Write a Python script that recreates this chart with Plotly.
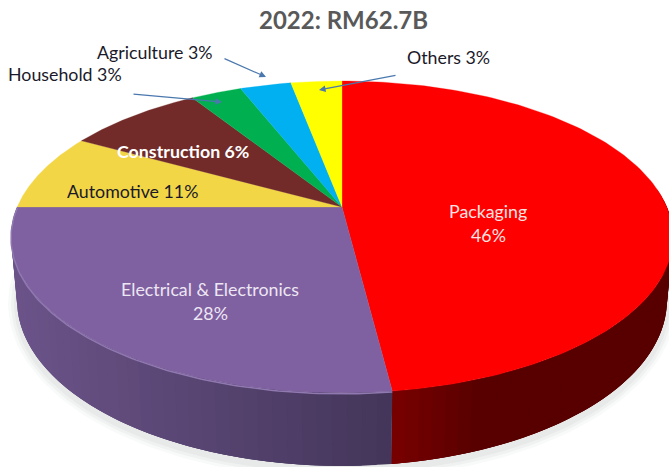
import numpy as np
import plotly.graph_objects as go

# Data
categories = ["Packaging", "Electrical & Electronics", "Automotive", "Construction",
              "Household", "Agriculture", "Others"]
stated_pct = [46, 28, 11, 6, 3, 3, 3]          # percentages printed on the labels
drawn_shares = [48, 27, 8, 8, 3, 3, 3]         # sweep of each slice as drawn in the picture
top_colors = ["#FF0000", "#7F60A0", "#F3D646", "#722B28", "#00B050", "#00B0F0", "#FFFF00"]
side_left = {"Packaging": (122, 0, 0), "Electrical & Electronics": (108, 84, 138)}
side_right = {"Packaging": (88, 0, 0), "Electrical & Electronics": (68, 54, 90)}
title = "2022: RM62.7B"
FONT = "Lato"

# Page-pixel geometry of the tilted disc
AX, AY = 342.0, 207.0      # apex
A, B, K = 324.8, 150.2, 0.192
E_CX, E_CY, E_RX, E_RY = 341.0, 237.0, 331.0, 156.0
L_CX, L_CY, L_RX, L_RY = 341.0, 300.0, 325.0, 166.0


def rim(theta):
    """theta in radians, clockwise from the top of the disc."""
    u, v = np.sin(theta), np.cos(theta)
    w = 1 + K * v
    return AX + A * u / w, AY - B * v / w


def lower(x, y):
    return L_CX + (x - E_CX) * L_RX / E_RX, L_CY + (y - E_CY) * L_RY / E_RY


fig = go.Figure()


def poly(xs, ys, color, opacity=1.0, lw=0.0):
    fig.add_trace(go.Scatter(
        x=xs, y=ys, mode="lines", fill="toself", fillcolor=color, opacity=opacity,
        line=dict(color=color, width=lw), hoverinfo="skip", showlegend=False))


# soft shadow around the base
t = np.linspace(0, 2 * np.pi, 240)
sx, sy = rim(t)
for grow, op in ((9, 0.05), (6, 0.06), (3, 0.08)):
    lx, ly = lower(sx, sy)
    poly(L_CX + (lx - L_CX) * (1 + grow / L_RX), L_CY + 4 + (ly - L_CY) * (1 + grow / L_RY),
         "#7f8a85", op)

edges = np.concatenate([[0], np.cumsum(drawn_shares)]) / sum(drawn_shares) * 2 * np.pi

# side wall: the two slices that face the viewer; each strip overlaps the next to hide seams
for i, name in enumerate(categories):
    if name not in side_left:
        continue
    a0, a1 = edges[i], edges[i + 1]
    a0_vis = max(a0, np.pi / 2 - 0.12)
    a1_vis = min(a1, 3 * np.pi / 2 + 0.12)
    steps = np.linspace(a0_vis, a1_vis, 46)
    for j, (s0, s1) in enumerate(zip(steps[:-1], steps[1:])):
        end = steps[min(j + 3, len(steps) - 1)]
        arc = np.linspace(s0, end, 6)
        x, y = rim(arc)
        bx, by = lower(x, y)
        mx = rim((s0 + s1) / 2)[0]
        if name == "Packaging":
            f = np.clip((mx - 390) / 90, 0, 1)
            c = np.array(side_left[name]) + f * (np.array(side_right[name]) - np.array(side_left[name]))
        else:
            f = np.clip((390 - mx) / 380, 0, 1)
            c = np.array(side_right[name]) + f * (np.array(side_left[name]) - np.array(side_right[name]))
        poly(np.r_[x, bx[::-1], x[0]], np.r_[y, by[::-1], y[0]], "rgb(%d,%d,%d)" % tuple(c))

# top face
for i, name in enumerate(categories):
    th = np.linspace(edges[i], edges[i + 1], 140)
    x, y = rim(th)
    poly(np.r_[AX, x, AX], np.r_[AY, y, AY], top_colors[i], lw=0.3)

# pale highlight on the purple rim
th = np.linspace(edges[1], 3 * np.pi / 2, 120)
x, y = rim(th)
fig.add_trace(go.Scatter(x=x, y=y + 1, mode="lines", line=dict(color="#9079B0", width=1.5),
                         hoverinfo="skip", showlegend=False))


def label(x, y, text, size=17.8, color="#1a1a2a", bold=False):
    fig.add_annotation(x=x, y=y, xref="x", yref="y", text=f"<b>{text}</b>" if bold else text,
                       showarrow=False, xanchor="center", yanchor="middle",
                       font=dict(family=FONT, size=size, color=color))


def arrow(x0, y0, x1, y1):
    fig.add_annotation(x=x1, y=y1, ax=x0, ay=y0, xref="x", yref="y", axref="x", ayref="y",
                       text="", showarrow=True, arrowhead=2, arrowsize=1.1, arrowwidth=1.2,
                       arrowcolor="#4A78AE")


label(343, 19, title, size=24, color="#595959", bold=True)
label(155, 52, f"{categories[5]} {stated_pct[5]}%")
label(65, 74, f"{categories[4]} {stated_pct[4]}%")
label(448, 57, f"{categories[6]} {stated_pct[6]}%")
label(183, 151, f"{categories[3]} {stated_pct[3]}%", color="#FFFFFF", bold=True)
label(132, 191, f"{categories[2]} {stated_pct[2]}%")
label(210, 289, categories[1], color="#EDE6F3")
label(210, 313, f"{stated_pct[1]}%", color="#EDE6F3")
label(488, 211, categories[0], color="#FBE3E3")
label(488, 235, f"{stated_pct[0]}%", color="#FBE3E3")

arrow(223, 58, 266, 77)
arrow(132, 94, 222, 102)
arrow(397, 75, 319, 90)

fig.update_layout(
    width=669, height=467, margin=dict(l=0, r=0, t=0, b=0),
    paper_bgcolor="white", plot_bgcolor="white", showlegend=False,
    xaxis=dict(range=[0, 669], visible=False, fixedrange=True),
    yaxis=dict(range=[467, 0], visible=False, fixedrange=True),
)
fig.write_html("out.html", config={"displayModeBar": False},
               post_script="document.body.style.margin='0';")
